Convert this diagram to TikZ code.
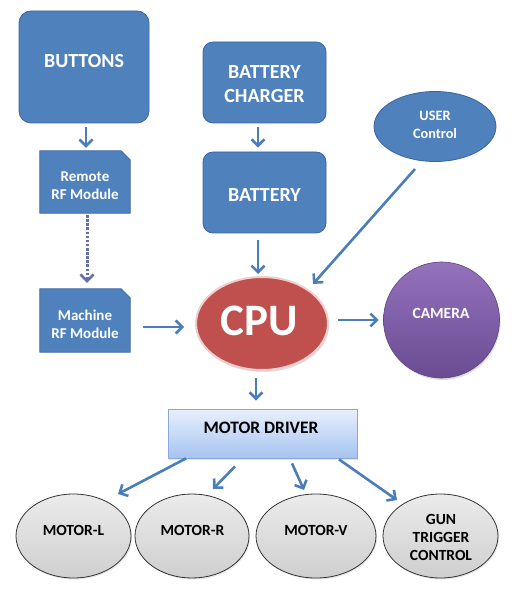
\documentclass[tikz,border=0pt]{standalone}
\usepackage{fontspec}
\setmainfont{Carlito}
\usetikzlibrary{arrows.meta,shapes.geometric,shadows,calc,backgrounds}
\definecolor{boxblue}{HTML}{4F81BD}
\definecolor{boxedge}{HTML}{3A65A0}
\definecolor{arrowblue}{HTML}{4A7EBB}
\definecolor{dotblue}{HTML}{6670A8}
\definecolor{cpured}{HTML}{C0504D}
\definecolor{camtop}{HTML}{9472BC}
\definecolor{cambot}{HTML}{6A4C92}
\definecolor{mdtop}{HTML}{E8F0FC}
\definecolor{mdbot}{HTML}{A6C3F0}
\definecolor{mdedge}{HTML}{8AA8DA}
\definecolor{graytop}{HTML}{EBEBEB}
\definecolor{graybot}{HTML}{CFCFCF}
\begin{document}
\begin{tikzpicture}[x=1pt,y=-1pt,
  bluebox/.style={draw=boxedge,line width=0.8pt,fill=boxblue,rounded corners=12pt},
  blueell/.style={ellipse,draw=boxedge,line width=0.8pt,fill=boxblue},
  plainbox/.style={rectangle,inner sep=0pt},
  arr/.style={draw=arrowblue,line width=2.6pt,-{Straight Barb[length=6.5pt,width=13pt]}},
  dotarr/.style={draw=dotblue,line width=3pt,dash pattern=on 2.5pt off 1.6pt,-{Straight Barb[length=6.5pt,width=13pt,line width=2.6pt,sep=0pt]}},
  wbig/.style={text=white,font=\bfseries\fontsize{20}{24}\selectfont,align=center},
  wsmall/.style={text=white,font=\bfseries\fontsize{15}{18}\selectfont,align=center},
  btxt/.style={text=black,font=\bfseries\fontsize{15.5}{18}\selectfont,align=center},
  motor/.style={ellipse,draw=black!80,line width=0.8pt,top color=graytop,bottom color=graybot,minimum height=84pt,inner sep=0pt,
    drop shadow={opacity=0.2,shadow xshift=1pt,shadow yshift=-1.5pt}}
]
\useasboundingbox (0,0) rectangle (513,593);

% top blue boxes
\node[bluebox,minimum width=130pt,minimum height=112pt] (buttons) at (84,67) {};
\node[wbig] (buttonsT) at (84,61) {BUTTONS};
\node[bluebox,rounded corners=10pt,minimum width=123pt,minimum height=81pt] (charger) at (264.5,82.5) {};
\node[wbig] (chargerT) at (264.5,84) {BATTERY\\CHARGER};
\node[bluebox,rounded corners=10pt,minimum width=123pt,minimum height=81pt] (battery) at (264.5,192.5) {};
\node[wbig] (batteryT) at (264.5,195) {BATTERY};
\node[blueell,minimum width=122pt,minimum height=70pt,inner sep=0pt] (user) at (435,126.5) {};
\node[wsmall,font=\bfseries\fontsize{14.3}{18}\selectfont] (userT) at (435,125) {USER\\Control};

% RF modules
\node[plainbox,minimum width=90pt,minimum height=62pt] (remote) at (85,182) {};
\node[wsmall] (remoteT) at (85,186) {Remote\\RF Module};
\node[plainbox,minimum width=90pt,minimum height=63pt] (machine) at (85,320.5) {};
\node[wsmall] (machineT) at (85,324) {Machine\\RF Module};
\begin{pgfonlayer}{background}
  \foreach \n in {remote,machine}{
    \draw[draw=boxedge,line width=0.8pt,fill=boxblue]
      (\n.south west) -- (\n.north west) -- ([xshift=-9pt]\n.north east)
      -- ([yshift=-9pt]\n.north east) -- (\n.south east) -- cycle;
  }
\end{pgfonlayer}

% CPU and camera
\node[ellipse,minimum width=132pt,minimum height=93pt,inner sep=0pt,
  fill=cpured,draw=white!72!cpured,line width=2pt,
  drop shadow={opacity=0.25,shadow xshift=1pt,shadow yshift=-2pt}] (cpu) at (262,323.5) {};
\node[text=white,font=\bfseries\fontsize{45}{48}\selectfont] (cpuT) at (259.5,321) {CPU};
\node[circle,minimum size=116pt,inner sep=0pt,top color=camtop,bottom color=cambot,
  draw=cambot!90!black,line width=0.6pt,
  drop shadow={opacity=0.25,shadow xshift=1pt,shadow yshift=-2pt}] (camera) at (441.5,320) {};
\node[wsmall,font=\bfseries\fontsize{15.5}{18}\selectfont] (cameraT) at (441,313) {CAMERA};

% motor driver
\node[rectangle,minimum width=189pt,minimum height=49pt,inner sep=0pt,top color=mdtop,bottom color=mdbot,
  draw=mdedge,line width=0.8pt,drop shadow={opacity=0.2,shadow xshift=1pt,shadow yshift=-1.5pt}] (md) at (262.5,433.5) {};
\node[btxt,font=\bfseries\fontsize{17.5}{20}\selectfont] (mdT) at (261,428) {MOTOR DRIVER};

% motors
\node[motor,minimum width=115pt] (ml) at (73.5,536) {};
\node[btxt] (mlT) at (73.5,530) {MOTOR-L};
\node[motor,minimum width=114pt] (mr) at (192,536) {};
\node[btxt] (mrT) at (192.5,530) {MOTOR-R};
\node[motor,minimum width=120pt] (mv) at (316,536) {};
\node[btxt] (mvT) at (316,530) {MOTOR-V};
\node[motor,minimum width=115pt] (gun) at (440.5,536) {};
\node[btxt] (gunT) at (441,537) {GUN\\TRIGGER\\CONTROL};

% connectors
\draw[arr,shorten <=4pt,shorten >=3pt] ([xshift=2pt]buttons.south) -- ([xshift=1pt]remote.north);
\draw[dotarr,shorten <=2pt,shorten >=6pt] ([xshift=2pt]remote.south) -- ([xshift=2pt]machine.north);
\draw[arr,shorten <=4pt,shorten >=4pt] ([xshift=-6.5pt]charger.south) -- ([xshift=-6.5pt]battery.north);
\draw[arr] ($(battery.south)+(-6.5,7)$) -- ($(cpu.north)+(-4,-2)$);
\draw[arr] ($(user.center)+(-20,42.5)$) -- ($(cpu.center)+(51,-39.5)$);
\draw[arr] ($(machine.east)+(13,6.5)$) -- ($(cpu.west)+(-11,3.5)$);
\draw[arr] ($(cpu.east)+(9,-3.5)$) -- ($(camera.west)+(-4.5,0)$);
\draw[arr] ($(cpu.south)+(-6,7)$) -- ($(md.north)+(-6.5,-8)$);
\draw[arr] ($(md.south)+(-76.5,0)$) -- ($(ml.center)+(44.5,-42)$);
\draw[arr] ($(md.south)+(-27.5,8)$) -- ($(mr.center)+(21,-47)$);
\draw[arr] ($(md.south)+(29.5,5)$) -- ($(mv.center)+(-12,-46)$);
\draw[arr] ($(md.south)+(76.5,1)$) -- ($(gun.center)+(-43.5,-36)$);
\end{tikzpicture}
\end{document}
